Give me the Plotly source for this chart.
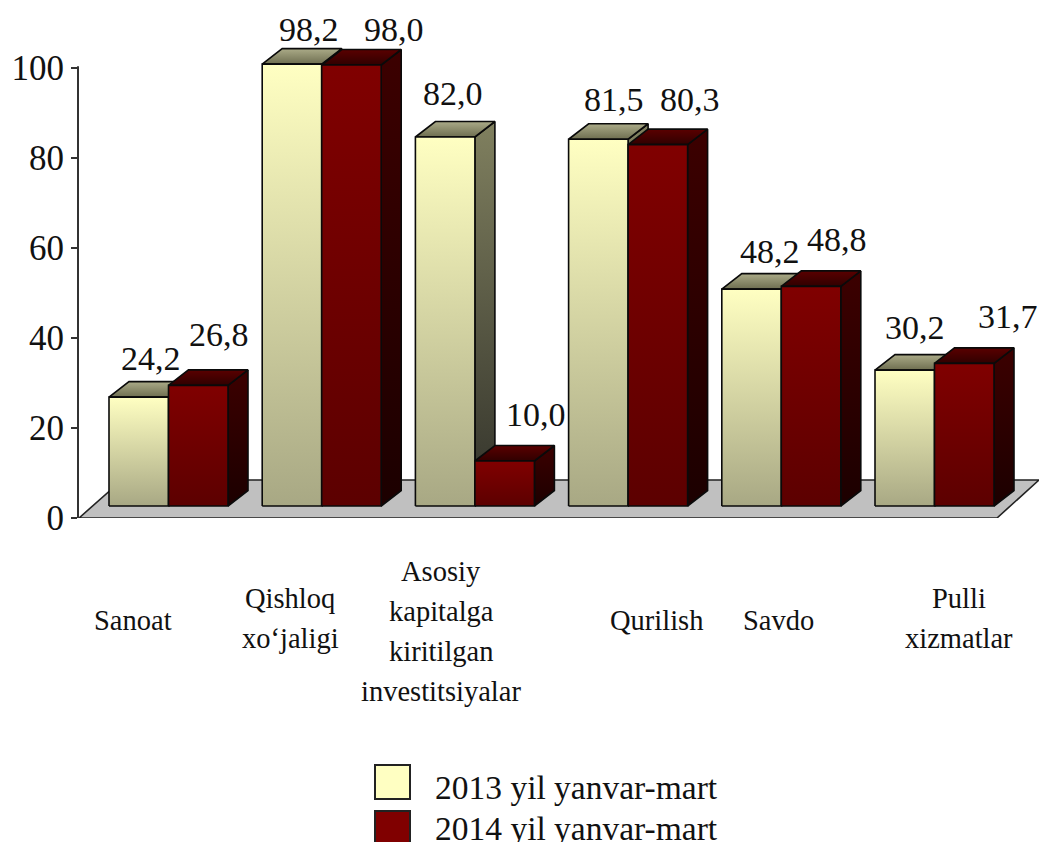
import plotly.graph_objects as go

categories = ["Sanoat", "Qishloq<br>xo‘jaligi", "Asosiy<br>kapitalga<br>kiritilgan<br>investitsiyalar",
              "Qurilish", "Savdo", "Pulli<br>xizmatlar"]
series_names = ["2013 yil yanvar-mart", "2014 yil yanvar-mart"]
values_2013 = [24.2, 98.2, 82.0, 81.5, 48.2, 30.2]
values_2014 = [26.8, 98.0, 10.0, 80.3, 48.8, 31.7]
y_ticks = [0, 20, 40, 60, 80, 100]

W, H = 1039, 842
L, T, B = 78, 0, 324
PX_Y = 4.5
PITCH = 153.2
X0 = 168.5
FONT = "Liberation Serif"

BAR_W = 59.5 / PITCH
DX = 20 / PITCH
DY = 15.5 / PX_Y
BASE = 12 / PX_Y

PALETTE = [
    dict(front=("#A8A884", "#FFFFC2"), side=("#32322A", "#80805F"), top=("#6E6E50", "#ABAB88")),
    dict(front=("#5C0000", "#800000"), side=("#1C0000", "#3C0000"), top=("#300000", "#5A0000")),
]


def px(x):
    return (x - L) / (W - L)


def py(y):
    return (H - B - y) / (H - T - B)


def pdata_x(p):
    return (p - X0) / PITCH


fig = go.Figure()


def poly(xs, ys, grad=None, fill=None, lw=1.6, color="#0a0a0a"):
    kw = dict(x=xs + xs[:1], y=ys + ys[:1], mode="lines", fill="toself",
              line=dict(color=color, width=lw), hoverinfo="skip",
              showlegend=False, cliponaxis=False)
    if grad:
        kw["fillgradient"] = dict(type="vertical",
                                  colorscale=[[0, grad[0]], [1, grad[1]]])
    else:
        kw["fillcolor"] = fill
    fig.add_trace(go.Scatter(**kw))


# floor
fx0, fx1 = pdata_x(79), pdata_x(997)
bx0, bx1 = pdata_x(122), pdata_x(1039)
fback = 38 / PX_Y
poly([fx0, fx1, bx1, bx0], [0, 0, fback, fback], fill="#C0C0C0", lw=1.6, color="#222222")

for i in range(len(categories)):
    for s, vals in enumerate((values_2013, values_2014)):
        left = i + (s - 1) * BAR_W
        right = left + BAR_W
        bot = BASE
        top = BASE + vals[i]
        c = PALETTE[s]
        poly([right, right + DX, right + DX, right],
             [bot, bot + DY, top + DY, top], grad=c["side"])
        poly([left, right, right + DX, left + DX],
             [top, top, top + DY, top + DY], grad=c["top"])
        poly([left, right, right, left], [bot, bot, top, top], grad=c["front"])

fig.update_xaxes(range=[pdata_x(L), pdata_x(W)], visible=False, fixedrange=True)
fig.update_yaxes(range=[0, (H - B) / PX_Y], tickvals=y_ticks, ticks="outside", ticklen=6, tickwidth=2,
                 tickcolor="#333333", showline=False,
                 showgrid=False, zeroline=False, fixedrange=True,
                 tickfont=dict(family=FONT, size=35, color="#111111"))

annotations = []


def text(t, x, y, size, anchor="center"):
    annotations.append(dict(text=t, x=px(x), y=py(y), xref="paper", yref="paper",
                            showarrow=False, xanchor=anchor, yanchor="middle", align="center",
                            font=dict(family=FONT, size=size, color="#111111")))


value_label_xy = [[(151, 358), (219, 335)], [(309, 30), (394, 30)], [(453, 94), (536, 414)],
                  [(614, 100), (690, 100)], [(770, 251), (837, 240)], [(915, 327), (1008, 316)]]
for i in range(len(categories)):
    for s, vals in enumerate((values_2013, values_2014)):
        x, y = value_label_xy[i][s]
        text(f"{vals[i]:.1f}".replace(".", ","), x, y, 34)

category_xy = [(133, 620), (290, 618), (441, 631), (656, 620), (778, 620), (959, 618)]
LINE_PITCH = 40
for name, (x, y) in zip(categories, category_xy):
    lines = name.split("<br>")
    for k, line in enumerate(lines):
        text(line, x, y + (k - (len(lines) - 1) / 2) * LINE_PITCH, 28.5)

legend_y = [787, 828]
swatch_y = [(765, 799), (811, 846)]
shapes = [dict(type="line", xref="paper", yref="y", x0=0, x1=0, y0=0, y1=100.4,
               line=dict(color="#333333", width=2))]
for s, name in enumerate(series_names):
    text(name, 432.5, legend_y[s], 33.5, anchor="left")
    shapes.append(dict(type="rect", xref="paper", yref="paper", x0=px(375), x1=px(410),
                       y0=py(swatch_y[s][0]), y1=py(swatch_y[s][1]),
                       fillcolor=PALETTE[s]["front"][1], line=dict(color="#222222", width=2)))

fig.update_layout(width=W, height=H, margin=dict(l=L, r=0, t=T, b=B, autoexpand=False),
                  paper_bgcolor="white", plot_bgcolor="white", showlegend=False,
                  annotations=annotations, shapes=shapes)

fig.write_html("out.html", config=dict(displayModeBar=False),
               post_script="document.body.style.margin='0';document.body.style.overflow='hidden';")
